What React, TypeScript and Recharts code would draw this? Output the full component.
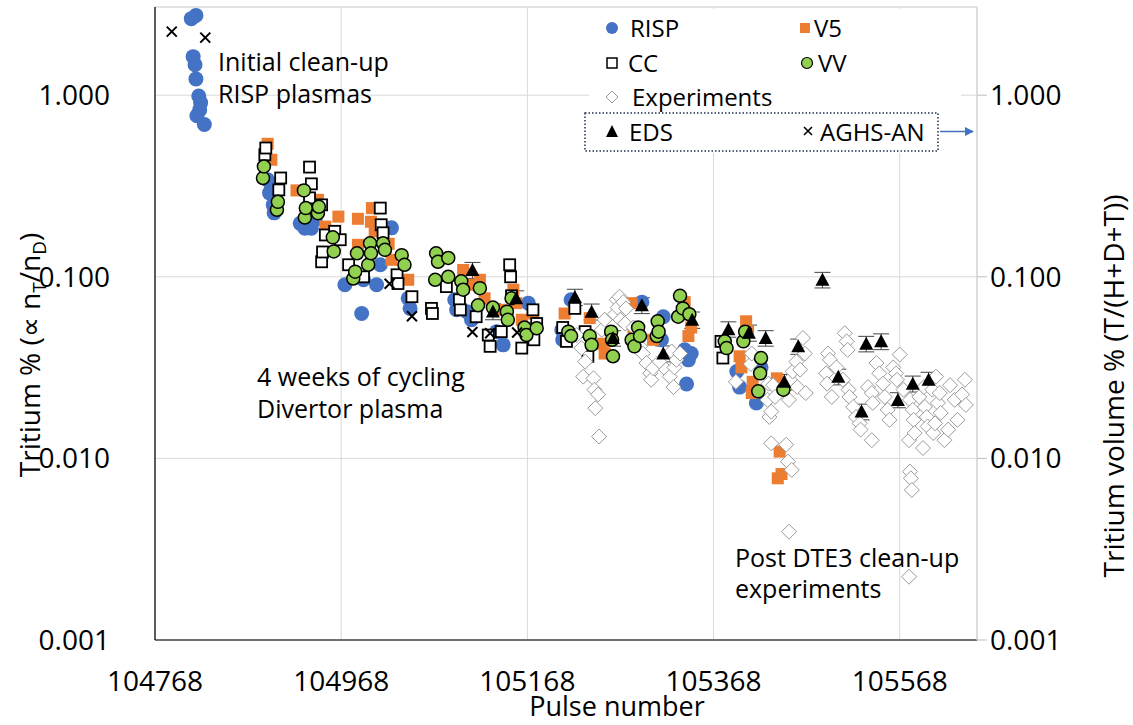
import React from "react";
import {
  ScatterChart,
  Scatter,
  XAxis,
  YAxis,
  CartesianGrid,
  ErrorBar,
  ReferenceArea,
} from "recharts";

// [pulse, tritium %]
const risp: [number, number][] = [
  [104807, 2.64], [104812, 2.75], [104809, 1.63], [104811, 1.47], [104812, 1.23],
  [104815, 0.99], [104817, 0.91], [104816, 0.83], [104813, 0.77], [104821, 0.69],
  [104889, 0.342], [104893, 0.314], [104891, 0.29], [104895, 0.249], [104896, 0.225],
  [104924, 0.197], [104929, 0.185], [104936, 0.185], [104940, 0.206],
  [104972, 0.0904], [104990, 0.0628], [104992, 0.0963], [105006, 0.0904], [105010, 0.1165],
  [105022, 0.186], [105040, 0.0762], [105042, 0.067],
  [105090, 0.0747], [105092, 0.0658], [105103, 0.0643], [105108, 0.058], [105135, 0.0499],
  [105142, 0.0422], [105169, 0.0716], [105205, 0.051], [105206, 0.045], [105215, 0.0747],
  [105283, 0.0428], [105291, 0.0725], [105312, 0.045], [105314, 0.0603], [105337, 0.0396],
  [105339, 0.0257], [105341, 0.0349], [105344, 0.0378],
  [105393, 0.0301], [105396, 0.0247], [105414, 0.0202], [105419, 0.0317], [105425, 0.0218],
];

const v5: [number, number][] = [
  [104889, 0.54], [104893, 0.441], [104920, 0.299], [104943, 0.2655], [104951, 0.189],
  [104965, 0.2145], [104986, 0.2087], [104986, 0.15], [105000, 0.201], [105001, 0.239],
  [105004, 0.178], [105019, 0.152], [105022, 0.124], [105040, 0.0963],
  [105099, 0.109], [105110, 0.0904], [105117, 0.0963], [105122, 0.0762], [105140, 0.0658],
  [105153, 0.0849], [105156, 0.0716], [105162, 0.058], [105174, 0.0628],
  [105208, 0.0628], [105235, 0.0592], [105249, 0.0428], [105251, 0.0378], [105280, 0.0716],
  [105282, 0.0526], [105303, 0.045], [105337, 0.0725], [105341, 0.0472], [105344, 0.0526],
  [105396, 0.0365], [105398, 0.0317], [105403, 0.0569], [105405, 0.0499], [105409, 0.0229],
  [105410, 0.0264], [105436, 0.0276], [105437, 0.00777], [105439, 0.0109], [105441, 0.0082],
];

const cc: [number, number][] = [
  [104886, 0.47], [104887, 0.512], [104901, 0.301], [104903, 0.35], [104934, 0.402],
  [104934, 0.272], [104936, 0.325], [104947, 0.249], [104947, 0.121], [104948, 0.137],
  [104951, 0.17], [104961, 0.178], [104967, 0.16], [104976, 0.1165], [104992, 0.1],
  [105010, 0.239], [105011, 0.1935], [105013, 0.1747], [105028, 0.1026], [105029, 0.0918],
  [105044, 0.0777], [105065, 0.067], [105066, 0.0628], [105081, 0.0883], [105095, 0.0747],
  [105096, 0.0658], [105113, 0.0603], [105126, 0.0478], [105128, 0.0414], [105140, 0.0499],
  [105149, 0.1165], [105150, 0.1], [105151, 0.0786], [105162, 0.0405], [105174, 0.0658],
  [105175, 0.045], [105178, 0.0553], [105206, 0.0526], [105210, 0.0441], [105219, 0.067],
  [105230, 0.0499], [105233, 0.0365], [105376, 0.0441], [105378, 0.0357],
];

const vv: [number, number][] = [
  [104884, 0.35], [104885, 0.405], [104899, 0.234], [104900, 0.2586], [104928, 0.299],
  [104929, 0.212], [104930, 0.239], [104943, 0.224], [104944, 0.243], [104959, 0.165],
  [104960, 0.138], [104981, 0.0978], [104983, 0.1067], [104985, 0.1348], [104997, 0.1165],
  [104999, 0.153], [105000, 0.1348], [105013, 0.153], [105015, 0.1408], [105033, 0.1316],
  [105036, 0.1165], [105069, 0.0963], [105070, 0.1348], [105072, 0.121], [105083, 0.127],
  [105083, 0.1], [105097, 0.0945], [105099, 0.0849], [105115, 0.0697], [105117, 0.0866],
  [105131, 0.0677], [105146, 0.0643], [105147, 0.058], [105151, 0.0762], [105165, 0.0526],
  [105167, 0.0478], [105178, 0.0521], [105212, 0.0499], [105215, 0.0472], [105235, 0.0472],
  [105237, 0.0422], [105258, 0.0499], [105259, 0.045], [105260, 0.0365], [105280, 0.045],
  [105283, 0.0414], [105287, 0.0526], [105289, 0.0472], [105307, 0.0472], [105308, 0.0569],
  [105309, 0.0499], [105330, 0.0603], [105332, 0.0786], [105335, 0.067], [105342, 0.0622],
  [105380, 0.0441], [105382, 0.0405], [105400, 0.0441], [105402, 0.0499], [105416, 0.0234],
  [105418, 0.0294], [105419, 0.0357], [105443, 0.0239],
];

const experiments: [number, number][] = [
  [105221, 0.0478], [105226, 0.0405], [105228, 0.0282], [105230, 0.0341], [105239, 0.0276],
  [105240, 0.0239], [105241, 0.0189], [105244, 0.0225], [105245, 0.0132], [105248, 0.051],
  [105251, 0.058], [105262, 0.0622], [105264, 0.0747], [105265, 0.0677], [105267, 0.0777],
  [105268, 0.058], [105271, 0.0725], [105273, 0.0553], [105274, 0.067], [105282, 0.0526],
  [105289, 0.0414], [105292, 0.0378], [105296, 0.0335], [105300, 0.0294], [105301, 0.0271],
  [105303, 0.0314], [105310, 0.0341], [105317, 0.0308], [105321, 0.0282], [105323, 0.0388],
  [105325, 0.0247], [105326, 0.0317], [105328, 0.0349], [105332, 0.0378],
  [105392, 0.0264], [105408, 0.0331], [105409, 0.0378], [105425, 0.0234], [105426, 0.021],
  [105427, 0.0258], [105428, 0.0169], [105430, 0.0181], [105430, 0.0121], [105432, 0.0253],
  [105434, 0.0218], [105446, 0.0119], [105448, 0.0096], [105449, 0.00395], [105449, 0.021],
  [105450, 0.0271], [105452, 0.00864], [105453, 0.0301], [105457, 0.0341], [105458, 0.0247],
  [105461, 0.0308], [105464, 0.046], [105466, 0.0378], [105467, 0.0229],
  [105489, 0.0294], [105490, 0.0258], [105491, 0.0378], [105493, 0.0349], [105495, 0.0218],
  [105500, 0.0317], [105507, 0.0271], [105509, 0.0489], [105511, 0.0441], [105512, 0.0396],
  [105513, 0.0239], [105514, 0.0218], [105518, 0.0192], [105521, 0.0169], [105525, 0.0156],
  [105526, 0.0144], [105534, 0.0247], [105538, 0.0229], [105538, 0.0126], [105539, 0.0202],
  [105543, 0.0335], [105546, 0.0294], [105550, 0.0258], [105552, 0.0218], [105555, 0.0185],
  [105557, 0.0163], [105561, 0.0317], [105564, 0.0294], [105565, 0.0271], [105568, 0.0373],
  [105572, 0.0239], [105578, 0.0126], [105578, 0.00223], [105579, 0.021], [105579, 0.00846],
  [105580, 0.00777], [105581, 0.0067], [105582, 0.0185], [105583, 0.0163], [105584, 0.0138],
  [105589, 0.0218], [105593, 0.0114], [105594, 0.0247], [105595, 0.0192], [105597, 0.0169],
  [105598, 0.015], [105603, 0.0239], [105604, 0.0138], [105606, 0.0156], [105607, 0.0282],
  [105609, 0.0202], [105611, 0.0229], [105612, 0.0178], [105616, 0.0126], [105620, 0.0144],
  [105622, 0.0253], [105627, 0.021], [105630, 0.0163], [105635, 0.0225], [105638, 0.0271],
  [105639, 0.0197],
];

// [pulse, tritium %, error]
const eds: [number, number, number][] = [
  [105109, 0.109, 0.011], [105131, 0.0645, 0.0065], [105156, 0.0762, 0.0075],
  [105219, 0.0774, 0.008], [105237, 0.0643, 0.0065], [105260, 0.046, 0.0045],
  [105291, 0.0697, 0.007], [105314, 0.0378, 0.0038], [105345, 0.058, 0.006],
  [105384, 0.0515, 0.005], [105406, 0.0492, 0.005], [105424, 0.046, 0.0045],
  [105444, 0.0264, 0.0026], [105459, 0.0414, 0.004], [105485, 0.0963, 0.0095],
  [105502, 0.0282, 0.0028], [105527, 0.0181, 0.0018], [105532, 0.0428, 0.0042],
  [105548, 0.0441, 0.0044], [105566, 0.021, 0.002], [105582, 0.0258, 0.0026],
  [105599, 0.0271, 0.0027],
];

const aghs: [number, number][] = [
  [104786, 2.24], [104822, 2.075], [105020, 0.0915], [105044, 0.0607],
  [105109, 0.0497], [105128, 0.0489], [105157, 0.0494],
];

const pulseTicks = [104768, 104968, 105168, 105368, 105568];
const tritiumTicks = [0.001, 0.01, 0.1, 1];
const pulseDomain = [104768, 105651];
const tritiumDomain = [0.001, 3.06];

const FONT = "'Open Sans', 'Noto Sans', sans-serif";

const pts = (rows: [number, number][]) => rows.map(([x, y]) => ({ x, y }));
const edsPts = eds.map(([x, y, err]) => ({ x, y, err }));

// marker shapes
const bluePt = (p: any) => <circle cx={p.cx} cy={p.cy} r={7.5} fill="#4472C4" />;
const orangePt = (p: any) => (
  <rect x={p.cx - 6} y={p.cy - 6} width={12} height={12} fill="#ED7D31" />
);
const ccPt = (p: any) => (
  <rect x={p.cx - 5.5} y={p.cy - 5.5} width={11} height={11} fill="#fff" stroke="#000" strokeWidth={1.8} />
);
const vvPt = (p: any) => (
  <circle cx={p.cx} cy={p.cy} r={6.5} fill="#92D050" stroke="#000" strokeWidth={1.5} />
);
const expPt = (p: any) => (
  <path
    d={`M${p.cx},${p.cy - 7.5}L${p.cx + 7.5},${p.cy}L${p.cx},${p.cy + 7.5}L${p.cx - 7.5},${p.cy}Z`}
    fill="#fff"
    stroke="#9a9a9a"
    strokeWidth={1}
  />
);
const edsPt = (p: any) => (
  <path d={`M${p.cx},${p.cy - 7}L${p.cx + 7},${p.cy + 6}L${p.cx - 7},${p.cy + 6}Z`} fill="#000" />
);
const aghsPt = (p: any) => (
  <path
    d={`M${p.cx - 5},${p.cy - 5}L${p.cx + 5},${p.cy + 5}M${p.cx + 5},${p.cy - 5}L${p.cx - 5},${p.cy + 5}`}
    stroke="#000"
    strokeWidth={2}
  />
);

const fmt = (v: number) => v.toFixed(3);

const PulseTick = ({ x, y, payload }: any) => (
  <text x={x} y={y + 43} textAnchor="middle" fontSize={28} fontFamily={FONT} fill="#000">
    {payload.value}
  </text>
);
const LeftTick = ({ x, y, payload }: any) => (
  <text x={x - 37} y={y + 10} textAnchor="end" fontSize={28} fontFamily={FONT} fill="#000">
    {fmt(payload.value)}
  </text>
);
const RightTick = ({ x, y, payload }: any) => (
  <text x={x + 1} y={y + 10} textAnchor="start" fontSize={28} fontFamily={FONT} fill="#000">
    {fmt(payload.value)}
  </text>
);

const Overlay = () => (
  <svg
    width={1133}
    height={725}
    style={{ position: "absolute", left: 0, top: 0, pointerEvents: "none" }}
    fontFamily={FONT}
  >
    <defs>
      <marker id="arrowHead" viewBox="0 0 10 10" refX="9" refY="5" markerWidth="6" markerHeight="6" orient="auto">
        <path d="M0,0L10,5L0,10Z" fill="#4472C4" />
      </marker>
    </defs>

    {/* annotations */}
    <g fontSize={25} fill="#000">
      <text x={218} y={71}>Initial clean-up</text>
      <text x={218} y={103}>RISP plasmas</text>
      <text x={257} y={386}>4 weeks of cycling</text>
      <text x={257} y={418}>Divertor plasma</text>
      <text x={735} y={567}>Post DTE3 clean-up</text>
      <text x={735} y={598}>experiments</text>
    </g>

    {/* axis titles */}
    <text x={617} y={716} textAnchor="middle" fontSize={27} fill="#000">Pulse number</text>
    <text transform="translate(40,355) rotate(-90)" textAnchor="middle" fontSize={28} fill="#000">
      Tritium % (∝ n<tspan dy={6} fontSize={19}>T</tspan>
      <tspan dy={-6}>/n</tspan>
      <tspan dy={6} fontSize={19}>D</tspan>
      <tspan dy={-6}>)</tspan>
    </text>
    <text transform="translate(1124,386) rotate(-90)" textAnchor="middle" fontSize={28} fill="#000">
      Tritium volume % (T/(H+D+T))
    </text>

    {/* legend */}
    <rect x={589} y={9} width={372} height={144} fill="#fff" />
    <g fontSize={24} fill="#000">
      <circle cx={612} cy={28} r={6} fill="#4472C4" />
      <text x={630} y={37}>RISP</text>
      <rect x={800} y={23} width={10} height={10} fill="#ED7D31" />
      <text x={814} y={37}>V5</text>

      <rect x={607} y={58} width={10} height={10} fill="#fff" stroke="#000" strokeWidth={1.5} />
      <text x={628} y={72}>CC</text>
      <circle cx={807} cy={63} r={5.5} fill="#92D050" stroke="#000" strokeWidth={1.2} />
      <text x={818} y={72}>VV</text>

      <path d="M612,91L618,97L612,103L606,97Z" fill="#fff" stroke="#9a9a9a" strokeWidth={1} />
      <text x={632} y={106}>Experiments</text>

      <path d="M612,125L618,137L606,137Z" fill="#000" />
      <text x={629} y={141}>EDS</text>
      <path d="M804,127L812,135M812,127L804,135" stroke="#000" strokeWidth={1.6} />
      <text x={820} y={141}>AGHS-AN</text>
    </g>
    <rect x={585} y={113} width={353} height={38} fill="none" stroke="#1f2f4f" strokeWidth={1.5} strokeDasharray="1.5 2" />
    <line x1={940} y1={131.5} x2={973} y2={131.5} stroke="#4472C4" strokeWidth={1.5} markerEnd="url(#arrowHead)" />
  </svg>
);

export default function App() {
  return (
    <div style={{ position: "relative", width: 1133, height: 725, background: "#fff" }}>
      <style>{"body{margin:0}"}</style>
      <ScatterChart width={1133} height={725} margin={{ top: 7, right: 0, bottom: 0, left: 0 }}>
        <CartesianGrid yAxisId="left" stroke="#d9d9d9" strokeWidth={1} />
        <XAxis
          type="number"
          dataKey="x"
          domain={pulseDomain}
          ticks={pulseTicks}
          allowDataOverflow
          height={85}
          tickLine={false}
          axisLine={{ stroke: "#000", strokeWidth: 1.2 }}
          tick={PulseTick}
        />
        <YAxis
          yAxisId="left"
          type="number"
          dataKey="y"
          scale="log"
          domain={tritiumDomain}
          ticks={tritiumTicks}
          allowDataOverflow
          width={155}
          tickLine={false}
          axisLine={{ stroke: "#000", strokeWidth: 1.2 }}
          tick={LeftTick}
        />
        <YAxis
          yAxisId="right"
          orientation="right"
          type="number"
          dataKey="y"
          scale="log"
          domain={tritiumDomain}
          ticks={tritiumTicks}
          allowDataOverflow
          width={156}
          tickSize={10}
          tickLine={{ stroke: "#bfbfbf" }}
          axisLine={{ stroke: "#d9d9d9" }}
          tick={RightTick}
        />
        <ReferenceArea
          yAxisId="left"
          x1={pulseDomain[0]}
          x2={pulseDomain[1]}
          y1={tritiumDomain[0]}
          y2={tritiumDomain[1]}
          fill="none"
          stroke="#d9d9d9"
          ifOverflow="extendDomain"
        />
        <Scatter yAxisId="left" name="RISP" data={pts(risp)} shape={bluePt} isAnimationActive={false} />
        <Scatter yAxisId="left" name="V5" data={pts(v5)} shape={orangePt} isAnimationActive={false} />
        <Scatter yAxisId="left" name="CC" data={pts(cc)} shape={ccPt} isAnimationActive={false} />
        <Scatter yAxisId="left" name="Experiments" data={pts(experiments)} shape={expPt} isAnimationActive={false} />
        <Scatter yAxisId="left" name="VV" data={pts(vv)} shape={vvPt} isAnimationActive={false} />
        <Scatter yAxisId="left" name="EDS" data={edsPts} shape={edsPt} isAnimationActive={false}>
          <ErrorBar dataKey="err" direction="y" width={8} stroke="#444" strokeWidth={1} isAnimationActive={false} />
        </Scatter>
        <Scatter yAxisId="left" name="AGHS-AN" data={pts(aghs)} shape={aghsPt} isAnimationActive={false} />
      </ScatterChart>
      <Overlay />
    </div>
  );
}
